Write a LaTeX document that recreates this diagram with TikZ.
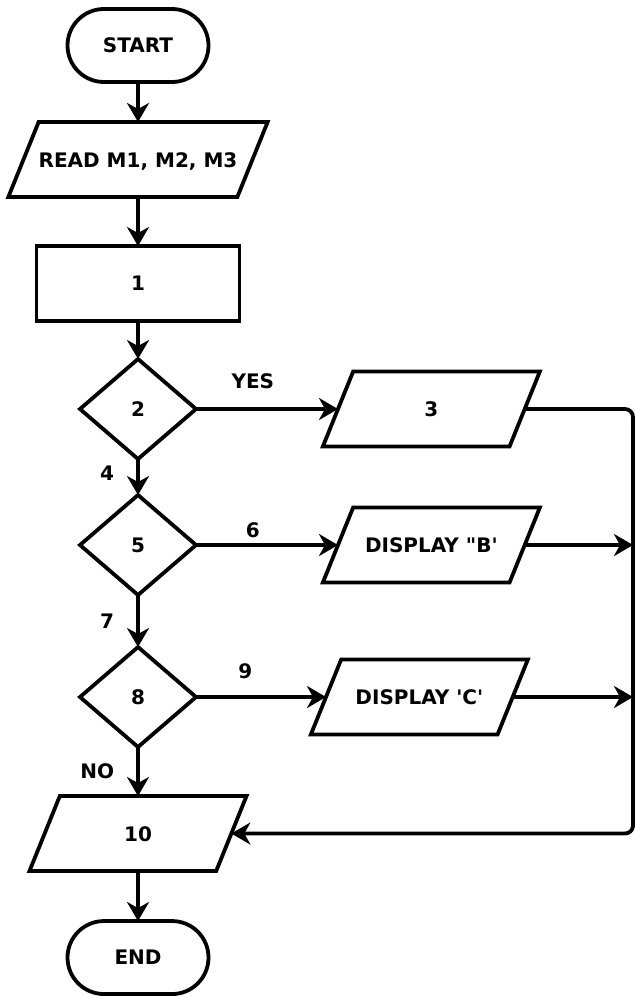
\documentclass[tikz,border=0pt]{standalone}
\usepackage{fontspec}
\setmainfont{DejaVu Sans}
\usepackage{tikz}
\usetikzlibrary{arrows.meta,positioning,shapes.geometric,shapes.misc}

\begin{document}
\begin{tikzpicture}[
  font=\fontsize{20}{23}\selectfont\bfseries,
  line width=3.8pt,
  base/.style={draw, outer sep=0pt, inner sep=2pt, align=center},
  term/.style={base, rounded rectangle, minimum width=145pt, minimum height=73pt},
  io/.style={base, trapezium, trapezium left angle=68, trapezium right angle=112, trapezium stretches body=true,
    text height=15pt, text depth=0pt, inner ysep=30pt, inner xsep=0pt},
  proc/.style={base, rectangle, minimum width=203pt, minimum height=75pt},
  dec/.style={base, diamond, inner sep=0pt, minimum width=116pt, minimum height=100pt},
  lbl/.style={inner sep=0pt},
  arr/.style={-{Stealth[length=19pt,width=22pt,inset=6pt]}}]
\useasboundingbox (0,0) rectangle (636pt,-998pt);
% main column
\node[term] (start) at (138pt,-45.5pt) {START};
\node[io, minimum width=259pt, below=40pt of start] (read) {READ M1, M2, M3};
\node[proc, below=49pt of read] (s1) {1};
\node[dec, below=38pt of s1] (d2) {2};
\node[dec, below=36pt of d2] (d5) {5};
\node[dec, below=52pt of d5] (d8) {8};
\node[io, minimum width=217pt, below=49pt of d8] (s10) {10};
\node[term, below=50pt of s10] (stop) {END};
% branches
\node[io, minimum width=217pt, right=142pt of d2] (s3) {3};
\node[io, minimum width=217pt, right=142pt of d5] (dispB) {DISPLAY \textquotedbl B\textquotesingle};
\node[io, minimum width=217pt, right=130pt of d8] (dispC) {DISPLAY \textquotesingle C\textquotesingle};
\coordinate (rim) at (633pt,0);

\draw[arr] (start) -- (read);
\draw[arr] (read) -- (s1);
\draw[arr] (s1) -- (d2);
\draw[arr] (d2) -- node[lbl, above=18pt, pos=.4] (yes) {YES} (s3);
\draw[arr] (d2) -- node[lbl, left=22pt, pos=.4] (l4) {4} (d5);
\draw[arr] (d5) -- node[lbl, above=5pt, pos=.4] (l6) {6} (dispB);
\draw[arr] (d5) -- node[lbl, left=22pt, pos=.5] (l7) {7} (d8);
\draw[arr] (d8) -- node[lbl, above=16pt, pos=.38] (l9) {9} (dispC);
\draw[arr] (d8) -- node[lbl, left=22pt, pos=.5] (lno) {NO} (s10);
\draw[arr] (s10) -- (stop);
\draw[arr] (dispB.east) -- (dispB.east -| rim);
\draw[arr] (dispC.east) -- (dispC.east -| rim);
\draw[arr, rounded corners=8pt] (s3.east) -- (s3.east -| rim) -- (s10.east -| rim) -- (s10.east);
\end{tikzpicture}
\end{document}
